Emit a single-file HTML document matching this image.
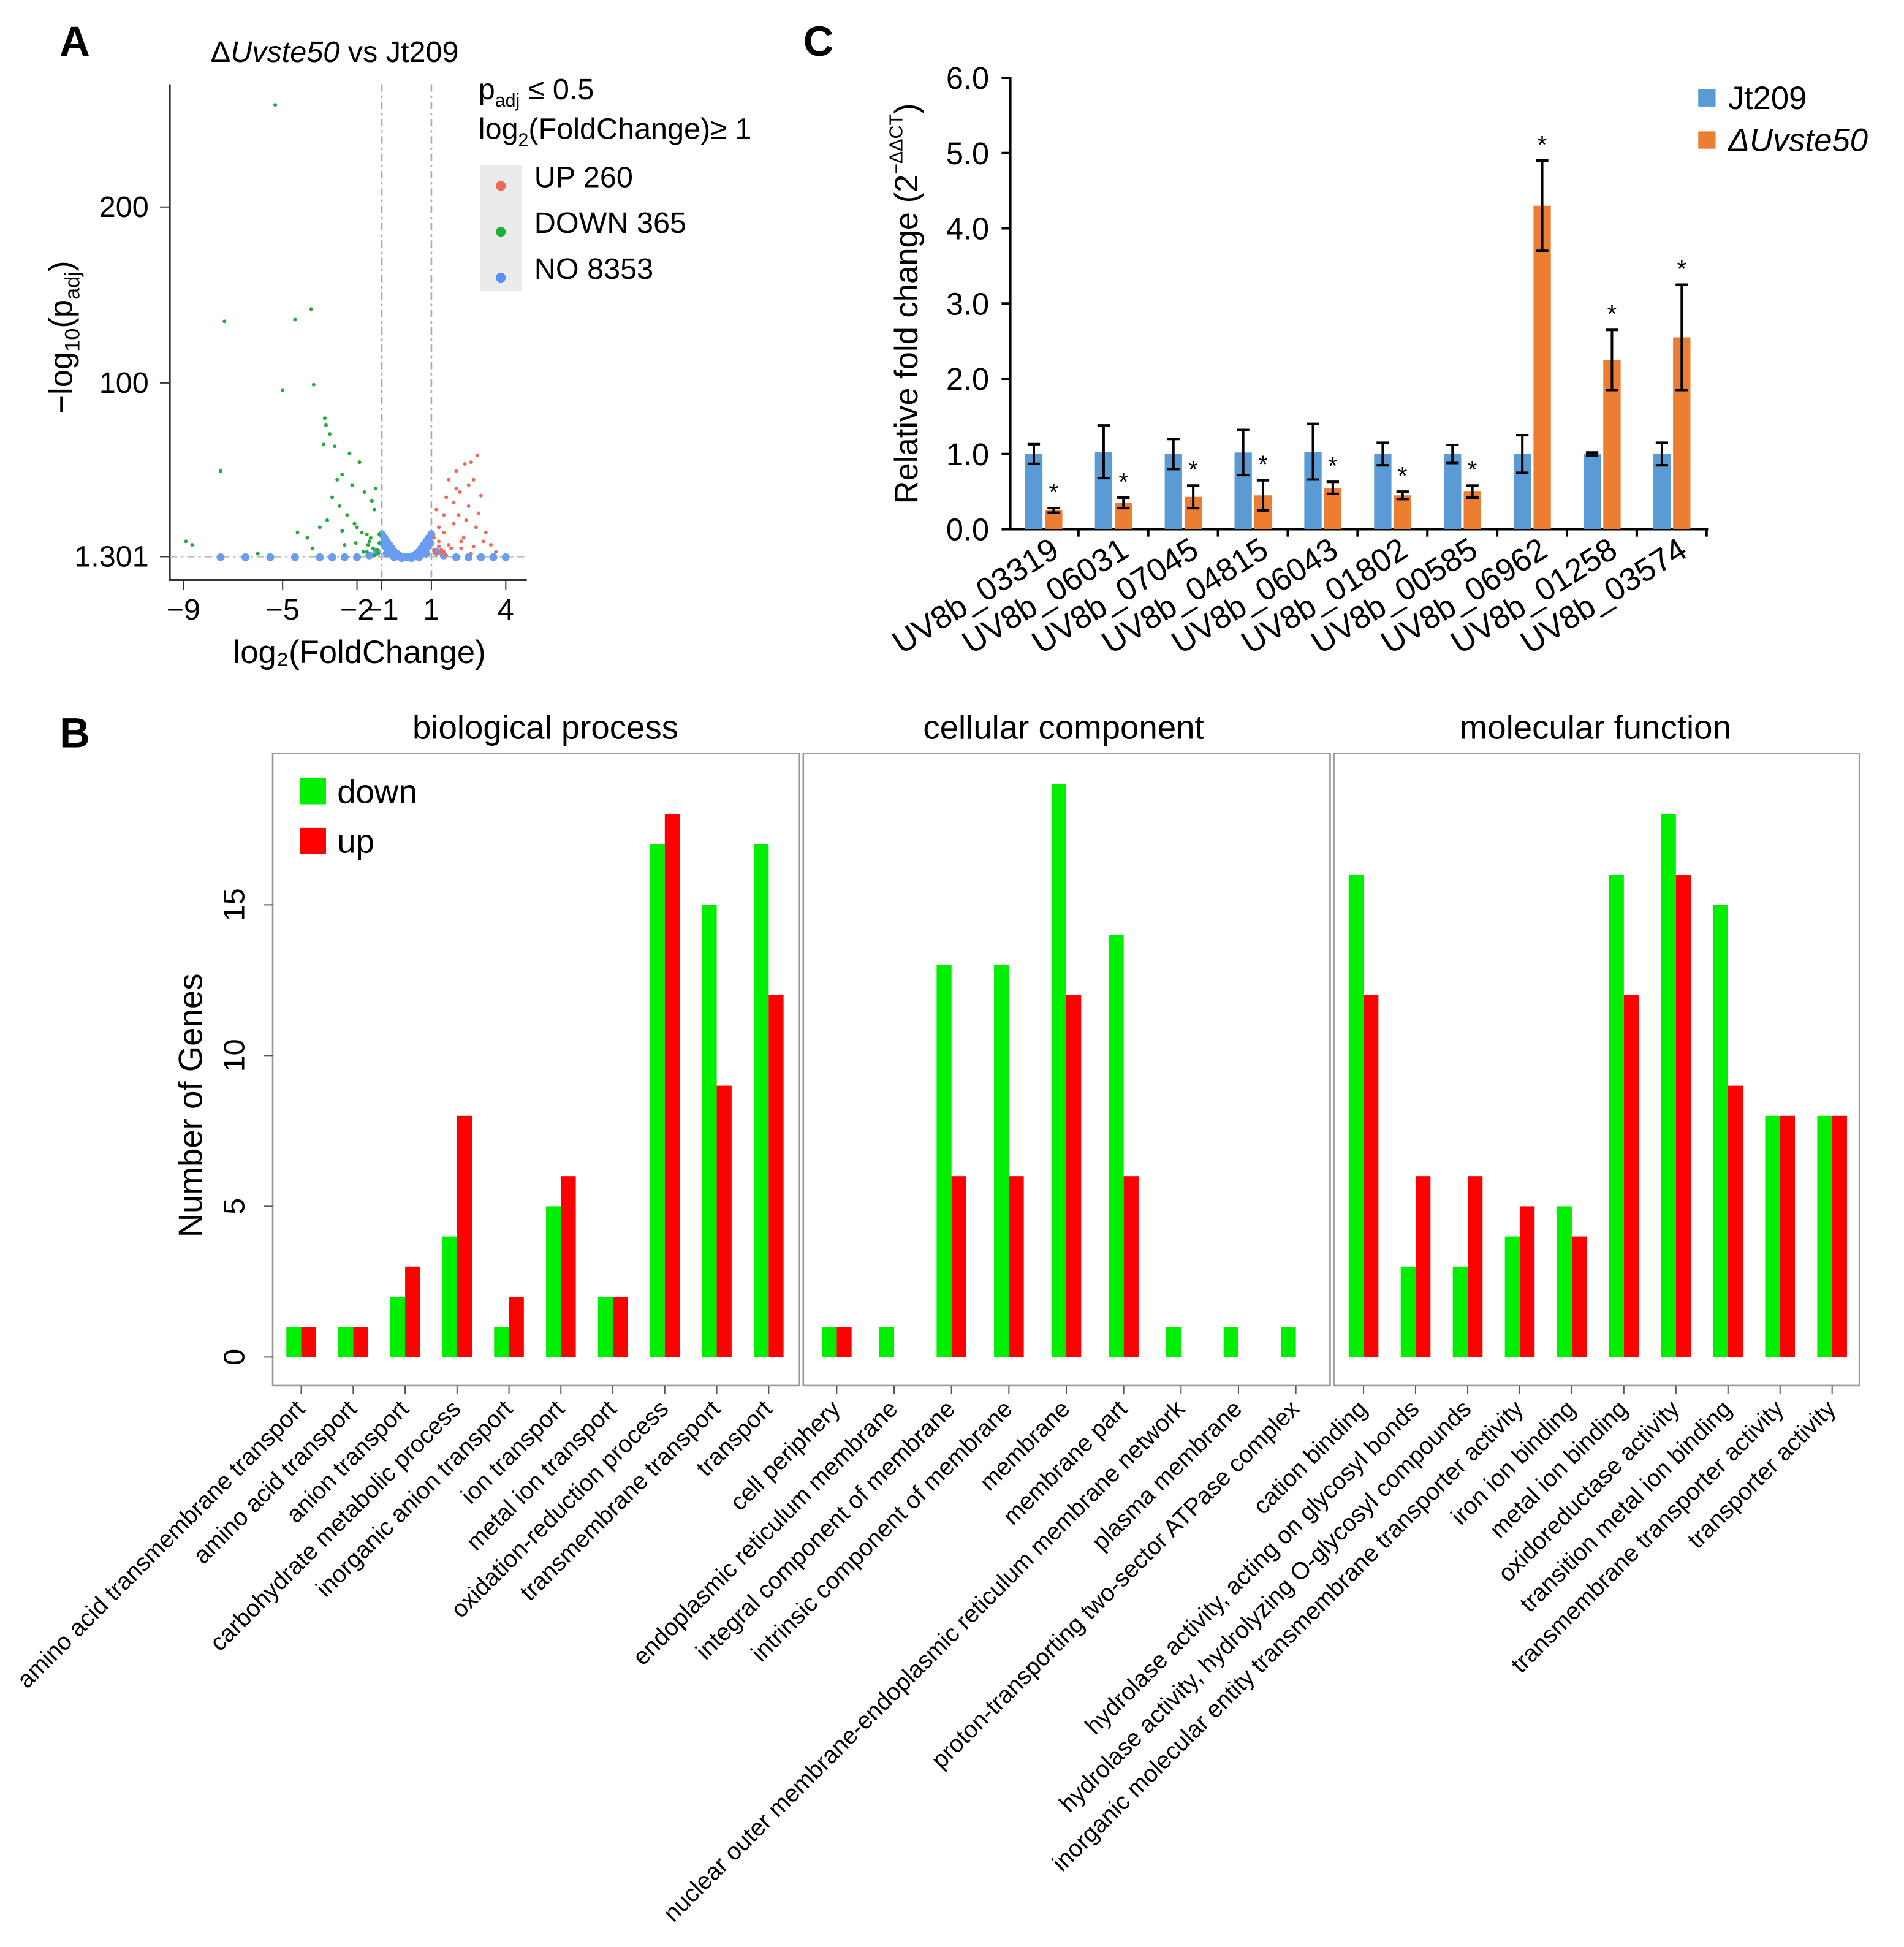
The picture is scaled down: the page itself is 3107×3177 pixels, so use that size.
<!DOCTYPE html>
<html><head><meta charset="utf-8">
<style>
html,body{margin:0;padding:0;background:#fff;}
svg{display:block;font-family:"Liberation Sans",Arial,sans-serif;}
</style></head>
<body>
<svg id="fig" width="3107" height="3177" viewBox="0 0 1536 1571" preserveAspectRatio="none" xmlns="http://www.w3.org/2000/svg">
<rect width="1536" height="1571" fill="#fff"/>
<text x="48" y="45" font-size="34" font-weight="bold">A</text>
<text x="48" y="603" font-size="34" font-weight="bold">B</text>
<text x="648" y="45" font-size="34" font-weight="bold">C</text>
<g id="pa"></g>
<g id="pc"></g>
<g id="pb"></g>
</svg>
<script>
// ---------- Panel A data ----------
const upX=[1.1,1.3,1.5,1.7,1.9,2.1,2.3,2.5,2.8,3.1,1.2,1.6,2.0,2.4,2.7,3.0,3.4,1.4,1.8,2.2,2.6,2.9,3.2,1.3,2.0,2.5,2.85,2.35,2.15,1.9,1.5,2.7,3.6,1.1,1.7,1.2,1.4,1.6,1.3,1.5,2.2,2.6];
const upY=[5,10,15,8,20,25,12,30,18,10,28,35,40,22,45,36,8,3,6,10,55,26,15,18,50,42,59,54,38,32,25,7,4,12,45,3,5,2,7,4,6,3];
const downX=[-5.3,-7.35,-4.5,-3.85,-5,-3.75,-7.5,-8.9,-8.65,-3.25,-3.1,-3.35,-2.9,-3.3,-1.2,-1.5,-1.8,-2.1,-2.4,-2.7,-3.0,-3.5,-4.0,-1.3,-1.7,-2.2,-2.6,-3.2,-1.1,-1.9,-2.5,-2.8,-1.4,-2.0,-3.8,-4.4,-1.6,-2.3,-1.25,-6.0,-1.15,-1.35,-1.55,-1.45,-1.75,-2.05,-1.1,-1.3,-1.6,-2.6];
const downY=[258,135,136,142,96,99,50,10,8,76,71,65,64,80,5,10,15,20,25,30,35,18,12,28,38,42,48,22,14,55,8,45,33,18,6,15,4,60,40,3,3,6,8,12,4,9,9,2,14,16];
const noX=[-1.0,-0.9,-0.8,-0.7,-0.6,-0.5,-0.4,-0.3,-0.2,-0.1,0,0.1,0.2,0.3,0.4,0.5,0.6,0.7,0.8,0.9,1.0,-1.5,-2.5,-3.5,-4.5,-5.5,1.5,2.5,3.5,4.0,-0.8,-0.5,-0.2,0.2,0.5,0.8,-0.6,0.6,-7.5,-2.0,-0.95,-0.85,-0.75,-0.65,-0.55,0.55,0.65,0.75,0.85,0.95,-1.2,1.2,-3.0,3.0,-6.5,2.0];
const noY=[14,12,10,8,6,4,3,2,1,1,1,1,1,2,3,4,6,8,10,12,14,2,1,1,1,1,2,1,1,1,3,1,0.5,0.5,1,3,6,6,1,1,9,7,5,3,2,2,3,5,7,9,4,4,1,1,1,1];
const volXTicks=[-9,-5,-2,-1,1,4];
const volYTicks=[1.301,100,200];
const volYLabels=['1.301','100','200'];

// ---------- Panel C data ----------
const genes=['UV8b_03319','UV8b_06031','UV8b_07045','UV8b_04815','UV8b_06043','UV8b_01802','UV8b_00585','UV8b_06962','UV8b_01258','UV8b_03574'];
const jtVals=[1,1.03,1,1.02,1.03,1,1,1,1,1];
const jtErr=[0.13,0.35,0.2,0.3,0.37,0.15,0.12,0.25,0.02,0.15];
const mutVals=[0.25,0.35,0.43,0.45,0.55,0.45,0.5,4.3,2.25,2.55];
const mutErr=[0.03,0.07,0.15,0.2,0.08,0.05,0.08,0.6,0.4,0.7];
const cTicks=[0,1,2,3,4,5,6];

// ---------- Panel B data ----------
const bpCats=['amino acid transmembrane transport','amino acid transport','anion transport','carbohydrate metabolic process','inorganic anion transport','ion transport','metal ion transport','oxidation-reduction process','transmembrane transport','transport'];
const bpDown=[1,1,2,4,1,5,2,17,15,17];
const bpUp=[1,1,3,8,2,6,2,18,9,12];
const ccCats=['cell periphery','endoplasmic reticulum membrane','integral component of membrane','intrinsic component of membrane','membrane','membrane part','nuclear outer membrane-endoplasmic reticulum membrane network','plasma membrane','proton-transporting two-sector ATPase complex'];
const ccDown=[1,1,13,13,19,14,1,1,1];
const ccUp=[1,0,6,6,12,6,0,0,0];
const mfCats=['cation binding','hydrolase activity, acting on glycosyl bonds','hydrolase activity, hydrolyzing O-glycosyl compounds','inorganic molecular entity transmembrane transporter activity','iron ion binding','metal ion binding','oxidoreductase activity','transition metal ion binding','transmembrane transporter activity','transporter activity'];
const mfDown=[16,3,3,4,5,16,18,15,8,8];
const mfUp=[12,6,6,5,4,12,16,9,8,8];
const bTicks=[0,5,10,15];

const NS='http://www.w3.org/2000/svg';
function mk(parent,tag,attrs,text){const e=document.createElementNS(NS,tag);for(const k in attrs)e.setAttribute(k,attrs[k]);if(text!==undefined)e.textContent=text;parent.appendChild(e);return e;}

// ===== Panel A =====
(function(){
const g=document.getElementById('pa');
const xs=v=>328+v*20, ys=v=>451-v*1.42;
const ax=mk(g,'path',{d:'M137,68 V468 H425',fill:'none',stroke:'#333','stroke-width':1.5});

[-1,1].forEach(v=>{const l=mk(g,'line',{x1:xs(v),x2:xs(v),y1:68,y2:468,stroke:'#aaa','stroke-dasharray':'6,3,2,3','stroke-width':1.3});
});
const hl=mk(g,'line',{x1:137,x2:425,y1:ys(1.301),y2:ys(1.301),stroke:'#bbb','stroke-dasharray':'6,3,2,3','stroke-width':1.3});

noX.forEach((x,i)=>{const c=mk(g,'circle',{cx:xs(x),cy:ys(noY[i]),r:3.2,fill:'#6a9cf2'});});
downX.forEach((x,i)=>{const c=mk(g,'circle',{cx:xs(x),cy:ys(downY[i]),r:1.5,fill:'#1fae3a'});});
upX.forEach((x,i)=>{const c=mk(g,'circle',{cx:xs(x),cy:ys(upY[i]),r:1.5,fill:'#f06a5a'});});
volXTicks.forEach(v=>{mk(g,'line',{x1:xs(v),x2:xs(v),y1:468,y2:476,stroke:'#333'});
const t=mk(g,'text',{x:xs(v),y:500,'font-size':24,'text-anchor':'middle'},(v<0?'\u2212':'')+Math.abs(v));});
volYTicks.forEach((v,i)=>{mk(g,'line',{x1:129,x2:137,y1:ys(v),y2:ys(v),stroke:'#333'});
const t=mk(g,'text',{x:120,y:ys(v)+8,'font-size':24,'text-anchor':'end'},volYLabels[i]);});
let t=mk(g,'text',{x:290,y:535,'font-size':26,'text-anchor':'middle'},'log\u2082(FoldChange)');
t=mk(g,'text',{transform:'translate(58,272) rotate(-90)','font-size':26,'text-anchor':'middle'});t.innerHTML='\u2212log<tspan font-size="17" dy="6">10</tspan><tspan dy="-6">(p</tspan><tspan font-size="17" dy="6">adj</tspan><tspan dy="-6">)</tspan>';

t=mk(g,'text',{x:270,y:50,'font-size':24,'text-anchor':'middle'});t.innerHTML='\u0394<tspan font-style="italic">Uvste50</tspan> vs Jt209';
t=mk(g,'text',{x:386,y:80,'font-size':24});t.innerHTML='p<tspan font-size="15" dy="6">adj</tspan><tspan dy="-6"> \u2264 0.5</tspan>';
t=mk(g,'text',{x:386,y:112,'font-size':24});t.innerHTML='log<tspan font-size="15" dy="6">2</tspan><tspan dy="-6">(FoldChange)\u2265 1</tspan>';
const lb=mk(g,'rect',{x:387,y:133,width:34,height:102,fill:'#ebebeb'});
[['UP 260','#f06a5a'],['DOWN 365','#1fae3a'],['NO 8353','#5b8ff0']].forEach((d,i)=>{
mk(g,'circle',{cx:404,cy:150+i*37,r:4,fill:d[1]});
const e=mk(g,'text',{x:431,y:151+i*37,'font-size':24},d[0]);});
})();

// ===== Panel C =====
(function(){
const g=document.getElementById('pc');
const ys=v=>427-v*60.7, x0=834, step=56.3;
mk(g,'path',{d:'M815,62 V427 H1378',fill:'none',stroke:'#000','stroke-width':2});
cTicks.forEach(v=>{mk(g,'line',{x1:808,x2:815,y1:ys(v),y2:ys(v),stroke:'#000','stroke-width':2});
const t=mk(g,'text',{x:798,y:ys(v)+9,'font-size':25,'text-anchor':'end'},v.toFixed(1));});
genes.forEach((gn,i)=>{
const cx=x0+i*step;
const b1=mk(g,'rect',{x:cx-7,y:ys(jtVals[i]),width:14,height:jtVals[i]*60.7,fill:'#5b9bd5'});
const b2=mk(g,'rect',{x:cx+9,y:ys(mutVals[i]),width:14,height:mutVals[i]*60.7,fill:'#ed7d31'});
[[cx,jtVals[i],jtErr[i]],[cx+16,mutVals[i],mutErr[i]]].forEach(d=>{
const e=mk(g,'path',{d:`M${d[0]},${ys(d[1]-d[2])}V${ys(d[1]+d[2])}M${d[0]-5},${ys(d[1]-d[2])}h10M${d[0]-5},${ys(d[1]+d[2])}h10`,stroke:'#000','stroke-width':2,fill:'none'});
});
const s=mk(g,'text',{x:cx+16,y:ys(mutVals[i]+mutErr[i])-6,'font-size':20,'text-anchor':'middle'},'*');
mk(g,'line',{x1:cx+36,x2:cx+36,y1:427,y2:433,stroke:'#000','stroke-width':2});
const t=mk(g,'text',{transform:`translate(${cx+22},448) rotate(-32)`,'font-size':26,'text-anchor':'end'},gn);
});
let t=mk(g,'text',{transform:'translate(740,245) rotate(-90)','font-size':26,'text-anchor':'middle'});t.innerHTML='Relative fold change (2<tspan font-size="15" dy="-12">\u2212\u0394\u0394CT</tspan><tspan dy="12">)</tspan>';

[['Jt209','#5b9bd5',''],['\u0394Uvste50','#ed7d31','italic']].forEach((d,i)=>{
mk(g,'rect',{x:1370,y:72+i*34,width:14,height:14,fill:d[1]});
const e=mk(g,'text',{x:1394,y:88+i*34,'font-size':26,'font-style':d[2]},d[0]);});
})();

// ===== Panel B =====
(function(){
const g=document.getElementById('pb');
const ys=v=>1095-v*24.33;
const facets=[['biological process',220,645,bpCats,bpDown,bpUp,243,41.9,440],['cellular component',648,1073,ccCats,ccDown,ccUp,675,46.3,858],['molecular function',1076,1500,mfCats,mfDown,mfUp,1100,42,1287]];
facets.forEach(f=>{
const p=mk(g,'rect',{x:f[1],y:608,width:f[2]-f[1],height:510,fill:'none',stroke:'#999','stroke-width':1.3});
const tt=mk(g,'text',{x:f[8],y:596,'font-size':27,'text-anchor':'middle'},f[0]);
f[3].forEach((c,i)=>{
const cx=f[6]+i*f[7];
const bd=mk(g,'rect',{x:cx-12,y:ys(f[4][i]),width:12,height:f[4][i]*24.33,fill:'#00ee00'});
const bu=mk(g,'rect',{x:cx,y:ys(f[5][i]),width:12,height:f[5][i]*24.33,fill:'#ff0000'});
mk(g,'line',{x1:cx,x2:cx,y1:1118,y2:1125,stroke:'#555'});
const t=mk(g,'text',{transform:`translate(${cx+4},1138) rotate(-45)`,'font-size':19.5,'text-anchor':'end'},c);
});});
bTicks.forEach(v=>{mk(g,'line',{x1:213,x2:220,y1:ys(v),y2:ys(v),stroke:'#555'});
const t=mk(g,'text',{transform:`translate(197,${ys(v)}) rotate(-90)`,'font-size':24,'text-anchor':'middle'},v);});
let t=mk(g,'text',{transform:'translate(163,892) rotate(-90)','font-size':27,'text-anchor':'middle'},'Number of Genes');
[['down','#00ee00'],['up','#ff0000']].forEach((d,i)=>{
mk(g,'rect',{x:242,y:628+i*40,width:21,height:21,fill:d[1]});
const e=mk(g,'text',{x:272,y:648+i*40,'font-size':27},d[0]);});
})();
</script>
</body></html>
